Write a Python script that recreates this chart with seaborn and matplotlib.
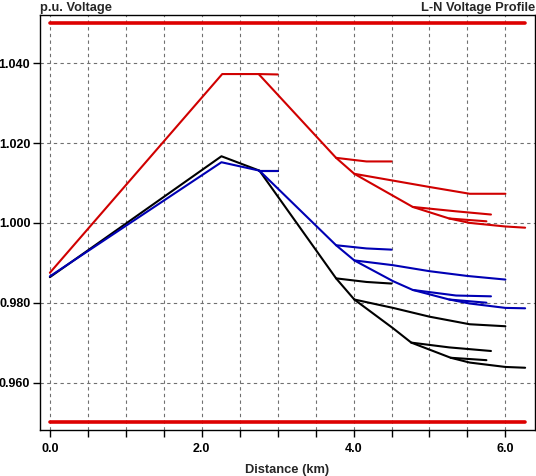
import numpy as np
import pandas as pd
import seaborn as sns
from matplotlib import pyplot as plt

# main feeder path per phase (distance km, p.u. voltage)
red_main_x = [0.0, 2.27, 2.75, 3.77, 4.01, 4.52, 4.78, 5.26, 5.53, 6.00, 6.26]
red_main_v = [0.9875, 1.0373, 1.0373, 1.0163, 1.0123, 1.0068, 1.0040, 1.0011, 1.0000, 0.9991, 0.9988]
black_main_x = [0.0, 2.26, 2.76, 3.77, 4.01, 4.52, 4.76, 5.28, 5.53, 6.00, 6.26]
black_main_v = [0.9864, 1.0167, 1.0131, 0.9861, 0.9808, 0.9736, 0.9700, 0.9662, 0.9650, 0.9639, 0.9637]
blue_main_x = [0.0, 2.26, 2.76, 3.77, 4.01, 4.52, 4.78, 5.26, 5.53, 6.00, 6.26]
blue_main_v = [0.9866, 1.0152, 1.0131, 0.9944, 0.9906, 0.9854, 0.9832, 0.9808, 0.9798, 0.9787, 0.9786]

# laterals branching off the main path
red_branches = [
    ([2.75, 3.00], [1.0373, 1.0372]),
    ([3.77, 4.17, 4.50], [1.0163, 1.0154, 1.0154]),
    ([4.01, 4.52, 5.00, 5.53, 6.00], [1.0123, 1.0106, 1.0090, 1.0073, 1.0073]),
    ([4.78, 5.35, 5.81], [1.0040, 1.0029, 1.0021]),
    ([5.26, 5.75], [1.0011, 1.0004]),
]
black_branches = [
    ([2.76, 3.00], [1.0131, 1.0131]),
    ([3.77, 4.17, 4.50], [0.9861, 0.9852, 0.9848]),
    ([4.01, 4.52, 5.00, 5.53, 6.00], [0.9808, 0.9787, 0.9765, 0.9746, 0.9741]),
    ([4.76, 5.26, 5.81], [0.9700, 0.9688, 0.9679]),
    ([5.28, 5.75], [0.9662, 0.9656]),
]
blue_branches = [
    ([2.76, 3.01], [1.0131, 1.0131]),
    ([3.77, 4.17, 4.50], [0.9944, 0.9936, 0.9933]),
    ([4.01, 4.52, 5.00, 5.50, 6.00], [0.9906, 0.9894, 0.9879, 0.9867, 0.9858]),
    ([4.78, 5.35, 5.81], [0.9832, 0.9818, 0.9816]),
    ([5.26, 5.75], [0.9808, 0.9800]),
]

# voltage limits
limit_x = [0.0, 6.26]
upper_limit = [1.05, 1.05]
lower_limit = [0.95, 0.95]

x_ticks = [0.0, 0.5, 1.0, 1.5, 2.0, 2.5, 3.0, 3.5, 4.0, 4.5, 5.0, 5.5, 6.0]
x_tick_labels = ['0.0', '', '', '', '2.0', '', '', '', '4.0', '', '', '', '6.0']
y_ticks = [0.96, 0.98, 1.00, 1.02, 1.04]

rows = []
phases = [
    ('black', black_main_x, black_main_v, black_branches),
    ('blue', blue_main_x, blue_main_v, blue_branches),
    ('red', red_main_x, red_main_v, red_branches),
]
seg = 0
for name, mx, mv, branches in phases:
    for xs, vs in [(mx, mv)] + branches:
        for xx, vv in zip(xs, vs):
            rows.append({'dist': xx, 'volt': vv, 'phase': name, 'seg': seg})
        seg += 1
df = pd.DataFrame(rows)

lim = pd.DataFrame({
    'dist': limit_x + limit_x,
    'volt': upper_limit + lower_limit,
    'which': ['hi', 'hi', 'lo', 'lo'],
})

sns.set_style('white')
plt.rcParams['font.family'] = ['Liberation Sans', 'DejaVu Sans']

fig = plt.figure(figsize=(5.36, 4.76), dpi=100)
ax = fig.add_axes([40 / 536, 1 - 430 / 476, 495 / 536, 415 / 476])

sns.lineplot(data=lim, x='dist', y='volt', units='which', estimator=None,
             color='#dd0000', linewidth=2.6, ax=ax, legend=False)
sns.lineplot(data=df, x='dist', y='volt', hue='phase', units='seg', estimator=None,
             sort=False, hue_order=['black', 'blue', 'red'],
             palette={'black': '#000000', 'blue': '#0000b4', 'red': '#d00000'},
             linewidth=1.5, ax=ax, legend=False)

ax.set_xlim(-0.13, 6.39)
ax.set_ylim(0.9481, 1.0521)
ax.set_xticks(x_ticks)
ax.set_xticklabels(x_tick_labels)
ax.set_yticks(y_ticks)
ax.set_yticklabels([f'{v:.3f}' for v in y_ticks])
ax.grid(True, linestyle=(0, (3, 3)), color='#707070', linewidth=0.8)
ax.tick_params(direction='out', length=5, width=1, color='black',
               labelsize=9, labelcolor='black', bottom=True, left=True)
ax.tick_params(axis='x', pad=4)
ax.tick_params(axis='y', pad=2)
for lab in ax.get_xticklabels() + ax.get_yticklabels():
    lab.set_fontweight('bold')
for sp in ax.spines.values():
    sp.set_color('black')
    sp.set_linewidth(1)

ax.set_xlabel('Distance (km)', fontsize=9.3, fontweight='bold', labelpad=7)
ax.set_ylabel('')
ax.set_title('p.u. Voltage', loc='left', fontsize=9.3, fontweight='bold', pad=3)
ax.set_title('L-N Voltage Profile', loc='right', fontsize=9.3, fontweight='bold', pad=3)

fig.savefig('out.png', dpi=100)
